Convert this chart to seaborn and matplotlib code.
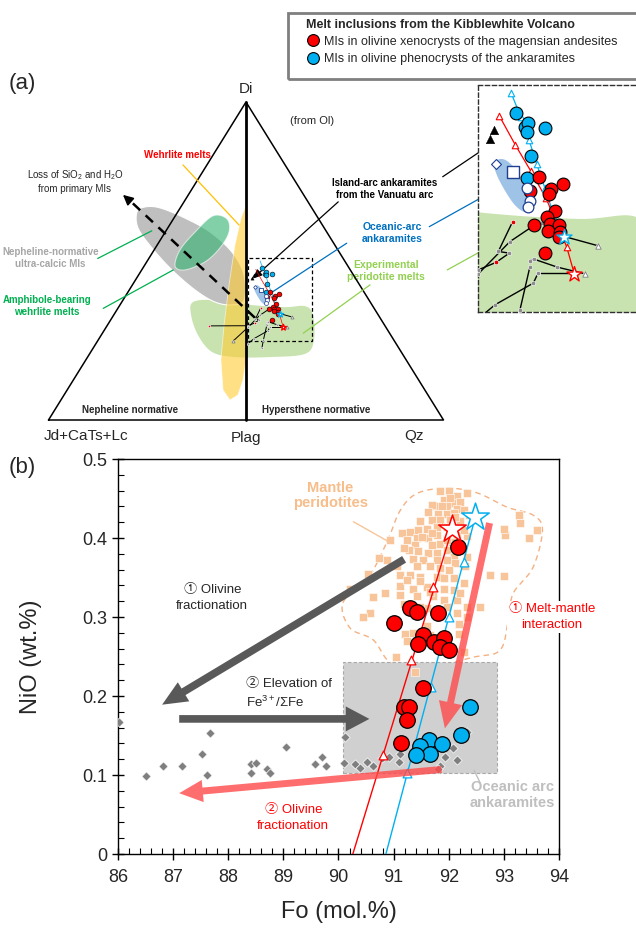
import numpy as np
import matplotlib
matplotlib.use("Agg")
import matplotlib.pyplot as plt
import seaborn as sns
from matplotlib.patches import Polygon, Rectangle, FancyArrowPatch
from matplotlib.lines import Line2D

# ---------------------------------------------------------------------------
# (b) Fo vs NiO data
# ---------------------------------------------------------------------------
xeno_fo = [92.16, 91.30, 91.43, 91.80, 91.01, 91.54, 91.45, 91.74, 91.92, 91.84,
           92.00, 91.53, 91.19, 91.28, 91.24, 91.13]
xeno_nio = [0.388, 0.312, 0.306, 0.305, 0.292, 0.277, 0.266, 0.268, 0.273, 0.262,
            0.258, 0.210, 0.186, 0.186, 0.170, 0.141]

pheno_fo = [92.38, 92.23, 91.65, 91.88, 91.48, 91.66, 91.41]
pheno_nio = [0.186, 0.151, 0.144, 0.139, 0.137, 0.127, 0.125]

ankaramite_fo = [86.02, 86.50, 86.82, 87.16, 87.52, 87.67, 87.61, 88.41, 88.50, 88.41,
                 88.70, 88.75, 89.04, 89.58, 89.70, 89.77, 90.12, 90.10, 90.30, 90.39,
                 90.51, 90.63, 90.79, 90.91, 91.09, 91.12, 91.93, 92.07, 92.15, 92.33,
                 91.84, 91.80]
ankaramite_nio = [0.167, 0.099, 0.112, 0.111, 0.127, 0.153, 0.100, 0.114, 0.115, 0.103,
                  0.108, 0.102, 0.136, 0.114, 0.123, 0.111, 0.148, 0.115, 0.114, 0.109,
                  0.116, 0.111, 0.121, 0.123, 0.117, 0.127, 0.123, 0.134, 0.119, 0.155,
                  0.111, 0.108]

peridotite_fo = [92.00, 92.15, 92.33, 91.91, 92.06, 92.21, 91.77, 91.97, 92.15, 92.27,
                 91.81, 91.97, 92.09, 92.36, 91.69, 91.84, 92.03, 92.21, 91.48, 91.45,
                 91.60, 91.78, 91.30, 91.15, 91.42, 91.63, 91.78, 92.15, 92.33, 91.24,
                 91.39, 91.69, 92.27, 91.84, 91.97, 92.09, 92.33, 91.78, 91.63, 91.45,
                 91.27, 91.18, 91.36, 91.54, 91.78, 91.97, 92.12, 92.30, 91.42, 91.66,
                 91.84, 92.00, 91.12, 91.30, 91.48, 91.78, 92.09, 92.27, 91.12, 91.36,
                 91.60, 91.91, 92.09, 91.42, 91.12, 91.72, 91.91, 92.15, 92.33, 92.57,
                 91.60, 90.57, 90.73, 90.54, 92.74, 93.01, 93.02, 93.01, 93.30, 93.27,
                 93.60, 93.45, 90.94, 91.21, 91.36, 91.60, 91.66, 92.18, 92.18, 91.25,
                 91.05, 91.39, 92.27,
                 91.84, 91.69, 91.63, 92.03, 91.87, 92.12, 91.97, 91.69, 91.51, 92.06,
                 92.21, 91.97, 91.84, 91.48, 91.91, 91.66, 91.24, 92.21, 91.97, 91.18,
                 91.48, 92.15, 92.33, 90.88, 91.06, 90.20, 90.45, 90.62, 90.85]
peridotite_nio = [0.460, 0.453, 0.457, 0.448, 0.444, 0.446, 0.440, 0.440, 0.437, 0.435,
                  0.431, 0.431, 0.432, 0.429, 0.423, 0.423, 0.423, 0.421, 0.421, 0.410,
                  0.412, 0.414, 0.408, 0.406, 0.400, 0.400, 0.404, 0.404, 0.402, 0.397,
                  0.391, 0.391, 0.410, 0.393, 0.385, 0.376, 0.376, 0.381, 0.381, 0.383,
                  0.385, 0.387, 0.374, 0.372, 0.372, 0.372, 0.368, 0.364, 0.364, 0.364,
                  0.362, 0.359, 0.353, 0.353, 0.351, 0.351, 0.349, 0.343, 0.339, 0.336,
                  0.338, 0.336, 0.334, 0.326, 0.328, 0.326, 0.321, 0.321, 0.313, 0.313,
                  0.311, 0.305, 0.375, 0.355, 0.353, 0.352, 0.404, 0.412, 0.419, 0.429,
                  0.410, 0.400, 0.397, 0.279, 0.280, 0.288, 0.277, 0.291, 0.279, 0.269,
                  0.250, 0.231, 0.256,
                  0.459, 0.442, 0.433, 0.451, 0.440, 0.427, 0.414, 0.406, 0.401, 0.395,
                  0.391, 0.398, 0.351, 0.345, 0.349, 0.332, 0.347, 0.330, 0.313, 0.317,
                  0.313, 0.305, 0.300, 0.372, 0.364, 0.335, 0.300, 0.325, 0.330]

# field outline of mantle peridotites
peridotite_field_fo = [90.08, 90.52, 90.88, 91.12, 91.44, 91.99, 92.52, 93.06, 93.53, 93.70,
                       93.53, 93.17, 93.08, 92.93, 92.44, 91.43, 90.94, 90.63, 90.21]
peridotite_field_nio = [0.318, 0.347, 0.395, 0.435, 0.457, 0.463, 0.457, 0.439, 0.429, 0.410,
                        0.363, 0.330, 0.296, 0.258, 0.249, 0.233, 0.242, 0.271, 0.286]

# oceanic-arc ankaramite field
ankaramite_box_fo = [90.09, 92.88]
ankaramite_box_nio = [0.102, 0.243]

# olivine-addition trends from the primary melts (stars)
red_primary = (92.06, 0.411)
blue_primary = (92.48, 0.426)
red_trend_fo = [92.06, 90.26]
red_trend_nio = [0.411, 0.0]
red_step_fo = [91.72, 91.31, 90.80]
red_step_nio = [0.338, 0.245, 0.125]
blue_trend_fo = [92.48, 90.86]
blue_trend_nio = [0.426, 0.0]
blue_step_fo = [92.27, 92.00, 91.67, 91.25]
blue_step_nio = [0.369, 0.300, 0.212, 0.103]

# process arrows (tail, head)
arrow_ol_frac = [(91.19, 0.373), (86.80, 0.189)]
arrow_fe3 = [(87.11, 0.171), (90.56, 0.171)]
arrow_melt_mantle = [(92.74, 0.419), (91.93, 0.159)]
arrow_ol_frac2 = [(91.87, 0.107), (87.11, 0.077)]

# ---------------------------------------------------------------------------
# (a) Projection from Ol: x runs Jd+CaTs+Lc (-1) -> Plag (0) -> Qz (+1),
#     y is the Di apex height (0..1)
# ---------------------------------------------------------------------------
tri_u = [-1.0, 0.0, 1.0, -1.0]
tri_v = [0.0, 1.0, 0.0, 0.0]

ultracalcic_u = [-0.552, -0.511, -0.435, -0.309, -0.182, -0.071, -0.010, -0.010, -0.071,
                 -0.157, -0.258, -0.375, -0.476, -0.547]
ultracalcic_v = [0.654, 0.670, 0.667, 0.635, 0.591, 0.528, 0.456, 0.377, 0.362,
                 0.371, 0.409, 0.472, 0.541, 0.604]
amph_u = [-0.167, -0.096, -0.086, -0.132, -0.208, -0.309, -0.359, -0.334, -0.258]
amph_v = [0.642, 0.632, 0.591, 0.541, 0.497, 0.472, 0.484, 0.535, 0.591]
wehrlite_u = [0.0, -0.025, -0.056, -0.086, -0.111, -0.127, -0.116, -0.081, -0.041, -0.015, 0.0]
wehrlite_v = [0.676, 0.635, 0.550, 0.425, 0.299, 0.189, 0.094, 0.063, 0.079, 0.126, 0.189]
exp_u = [-0.268, -0.157, 0.020, 0.197, 0.299, 0.339, 0.344, 0.299, 0.122, -0.056,
         -0.172, -0.243, -0.278]
exp_v = [0.371, 0.377, 0.362, 0.355, 0.358, 0.330, 0.252, 0.208, 0.198, 0.198,
         0.214, 0.267, 0.330]
oceanic_u = [0.0415, 0.0569, 0.0754, 0.0970, 0.1093, 0.1062, 0.0939, 0.0754, 0.0538, 0.0415]
oceanic_v = [0.4210, 0.4237, 0.4152, 0.3960, 0.3789, 0.3654, 0.3635, 0.3731, 0.3942, 0.4114]

xeno_u = [0.1235, 0.1063, 0.1451, 0.1409, 0.1668, 0.1525, 0.1372, 0.1433, 0.1605, 0.1402,
          0.1618, 0.1142, 0.1596, 0.1340]
xeno_v = [0.4029, 0.3871, 0.3894, 0.3840, 0.3952, 0.3644, 0.3569, 0.3492, 0.3480, 0.3414,
          0.3403, 0.3477, 0.3339, 0.3154]
pheno_u = [0.0798, 0.0970, 0.1031, 0.1013, 0.1335, 0.1087, 0.1001]
pheno_v = [0.4771, 0.4604, 0.4650, 0.4553, 0.4596, 0.4274, 0.4017]
oceanic_mi_u = [0.1001, 0.1063, 0.1031]
oceanic_mi_v = [0.3902, 0.3760, 0.3687]
oceanic_bulk_u, oceanic_bulk_v = [0.0748], [0.4093]
oceanic_avg_u, oceanic_avg_v = [0.0433], [0.4181]
vanuatu_u = [0.0396, 0.0322]
vanuatu_v = [0.4573, 0.4466]

red_path_u = [0.0495, 0.0791, 0.1075, 0.1359, 0.1740, 0.1883]
red_path_v = [0.4735, 0.4401, 0.4103, 0.3789, 0.3233, 0.2919]
blue_path_u = [0.0710, 0.0890, 0.1044, 0.1186, 0.1340, 0.1482, 0.1698]
blue_path_v = [0.5003, 0.4727, 0.4459, 0.4183, 0.3903, 0.3635, 0.3348]

# experimental melting paths
exp_paths = [
    [(0.0742, 0.352), (0.0476, 0.3176), (0.068, 0.3157), (0.0433, 0.305), (0.0106, 0.2965), (-0.187, 0.296)],
    [(0.1278, 0.350), (0.1143, 0.3478), (0.0692, 0.329), (0.0106, 0.2919), (-0.064, 0.249)],
    [(0.1698, 0.3348), (0.2327, 0.3241)],
    [(0.1062, 0.3072), (0.1136, 0.3088), (0.1568, 0.2996), (0.2081, 0.2919)],
    [(0.1217, 0.2934), (0.1865, 0.2934)],
    [(0.1217, 0.2934), (0.1124, 0.2812), (0.0415, 0.2563), (0.010, 0.240)],
    [(0.1062, 0.3003), (0.0877, 0.2505), (0.080, 0.225)],
]
exp_start_u = [0.0742, 0.0433, -0.187]
exp_start_v = [0.352, 0.305, 0.296]
exp_end_u = [0.2327, -0.064, 0.2081]
exp_end_v = [0.3241, 0.249, 0.2919]

# ---------------------------------------------------------------------------
sns.set_theme(style="ticks")
plt.rcParams["font.family"] = ["Liberation Sans", "Noto Sans CJK JP", "DejaVu Sans"]
plt.rcParams["mathtext.fontset"] = "custom"
plt.rcParams["mathtext.rm"] = "Liberation Sans"
plt.rcParams["mathtext.it"] = "Liberation Sans:italic"
plt.rcParams["mathtext.bf"] = "Liberation Sans:bold"

W, H = 636, 930
fig = plt.figure(figsize=(W / 100, H / 100), dpi=100)
fig.patch.set_facecolor("white")


def fig_box(x0, y0, x1, y1):
    return [x0 / W, 1 - y1 / H, (x1 - x0) / W, (y1 - y0) / H]


def smooth_closed(u, v, n=16):
    P = np.column_stack([u, v]).astype(float)
    m = len(P)
    t = np.linspace(0, 1, n, endpoint=False)[:, None]
    segs = []
    for i in range(m):
        p0, p1, p2, p3 = P[i - 1], P[i], P[(i + 1) % m], P[(i + 2) % m]
        segs.append(0.5 * (2 * p1 + (p2 - p0) * t + (2 * p0 - 5 * p1 + 4 * p2 - p3) * t ** 2
                           + (3 * p1 - p0 - 3 * p2 + p3) * t ** 3))
    out = np.vstack(segs)
    return np.vstack([out, out[:1]])


# ============================ panel (a) =====================================
ax_a = fig.add_axes(fig_box(0, 0, W, 445))
ax_a.set_xlim(-1.2456, 1.9747)
ax_a.set_ylim(-0.0786, 1.3208)
ax_a.axis("off")


def draw_fields(ax):
    ax.add_patch(Polygon(smooth_closed(exp_u, exp_v), closed=True, fc="#c8e3b0", ec="none", zorder=1))
    ax.add_patch(Polygon(smooth_closed(oceanic_u, oceanic_v), closed=True, fc="#9fc3e7", ec="none", zorder=2))


draw_fields(ax_a)
ax_a.add_patch(Polygon(smooth_closed(ultracalcic_u, ultracalcic_v), closed=True,
                       fc="#bfbfbf", ec="white", lw=0.8, zorder=2))
ax_a.add_patch(Polygon(smooth_closed(amph_u, amph_v), closed=True,
                       fc="#2fb26f", alpha=0.6, ec="white", lw=0.8, zorder=3))
ax_a.add_patch(Polygon(np.column_stack([wehrlite_u, wehrlite_v]), closed=True,
                       fc="#ffcc33", alpha=0.6, ec="white", lw=0.6, zorder=3))

# triangle frame
ax_a.plot(tri_u, tri_v, color="black", lw=1.1, zorder=5)
ax_a.plot([0, 0], [0, 1], color="black", lw=2.0, zorder=5)

# zoom box
ax_a.add_patch(Rectangle((0.01, 0.248), 0.324, 0.261, fill=False, ec="black", lw=0.9,
                         ls=(0, (3, 2)), zorder=6))

# SiO2 / H2O loss trend
ax_a.plot([0.046, -0.600], [0.321, 0.697], color="black", lw=1.8, ls=(0, (4, 3)), zorder=6)
ax_a.annotate("", xy=(-0.623, 0.708), xytext=(-0.590, 0.690),
              arrowprops=dict(arrowstyle="-|>,head_width=0.25,head_length=0.5", color="black",
                              lw=1.2, shrinkA=0, shrinkB=0), zorder=6)


def draw_points(ax, big):
    s_c = 85 if big else 12
    s_dot = 10 if big else 3
    lw_path = 1.0 if big else 0.7
    for path in exp_paths:
        pu = [p[0] for p in path]
        pv = [p[1] for p in path]
        ax.plot(pu, pv, color="black", lw=lw_path, zorder=6)
        sns.scatterplot(x=pu, y=pv, ax=ax, marker="o", s=s_dot, color="#8c8c8c",
                        edgecolor="white", linewidth=0.4, zorder=7)
    sns.scatterplot(x=exp_start_u, y=exp_start_v, ax=ax, marker="o", s=s_dot, color="#e00000",
                    edgecolor="white", linewidth=0.4, zorder=7)
    sns.scatterplot(x=exp_end_u, y=exp_end_v, ax=ax, marker="^", s=s_dot * 1.5, color="white",
                    edgecolor="#7f7f7f", linewidth=0.6, zorder=7)
    ax.plot(red_path_u, red_path_v, color="red", lw=0.9 if big else 0.5, zorder=8)
    ax.plot(blue_path_u, blue_path_v, color="#00b0f0", lw=0.9 if big else 0.5, zorder=8)
    if big:
        sns.scatterplot(x=red_path_u[:-1], y=red_path_v[:-1], ax=ax, marker="^", s=22,
                        color="white", edgecolor="red", linewidth=0.8, zorder=8)
        sns.scatterplot(x=blue_path_u[:-1], y=blue_path_v[:-1], ax=ax, marker="^", s=22,
                        color="white", edgecolor="#00b0f0", linewidth=0.8, zorder=8)
    sns.scatterplot(x=pheno_u, y=pheno_v, ax=ax, marker="o", s=s_c, color="#00b0f0",
                    edgecolor="black", linewidth=0.8 if big else 0.4, zorder=9)
    sns.scatterplot(x=xeno_u, y=xeno_v, ax=ax, marker="o", s=s_c, color="#ff0000",
                    edgecolor="black", linewidth=0.8 if big else 0.4, zorder=9)
    sns.scatterplot(x=oceanic_mi_u, y=oceanic_mi_v, ax=ax, marker="o", s=s_c * 0.7, color="white",
                    edgecolor="#1f3f8f", linewidth=0.9 if big else 0.5, zorder=9)
    sns.scatterplot(x=oceanic_bulk_u, y=oceanic_bulk_v, ax=ax, marker="s", s=s_c * 0.8, color="white",
                    edgecolor="#1f3f8f", linewidth=1.0 if big else 0.6, zorder=9)
    sns.scatterplot(x=oceanic_avg_u, y=oceanic_avg_v, ax=ax, marker="D", s=s_c * 0.3, color="white",
                    edgecolor="#1f3f8f", linewidth=0.8 if big else 0.5, zorder=9)
    sns.scatterplot(x=vanuatu_u, y=vanuatu_v, ax=ax, marker="^", s=s_c * 0.45, color="black",
                    edgecolor="black", linewidth=0.3, zorder=9)
    sns.scatterplot(x=[red_path_u[-1]], y=[red_path_v[-1]], ax=ax, marker="*",
                    s=130 if big else 20, color="white", edgecolor="red", linewidth=1.0, zorder=10)
    sns.scatterplot(x=[blue_path_u[-1]], y=[blue_path_v[-1]], ax=ax, marker="*",
                    s=130 if big else 20, color="white", edgecolor="#00b0f0", linewidth=1.0, zorder=10)


draw_points(ax_a, big=False)

# leader lines
leaders = [
    ([-0.319, -0.035], [0.802, 0.613], "#ffc000"),
    ([-0.751, -0.477], [0.508, 0.595], "#00b050"),
    ([-0.723, -0.368], [0.351, 0.472], "#00b050"),
    ([0.510, 0.122], [0.556, 0.398], "#0070c0"),
    ([0.928, 1.185], [0.608, 0.697], "#0070c0"),
    ([0.628, 0.290], [0.425, 0.273], "#92d050"),
    ([1.019, 1.185], [0.472, 0.529], "#92d050"),
    ([0.996, 1.185], [0.765, 0.844], "black"),
]
for lu, lv, c in leaders:
    ax_a.plot(lu, lv, color=c, lw=0.9, zorder=6)
ax_a.annotate("", xy=(0.035, 0.445), xytext=(0.467, 0.686),
              arrowprops=dict(arrowstyle="-|>,head_width=0.2,head_length=0.45", color="black",
                              lw=0.9, shrinkA=0, shrinkB=0), zorder=7)

bold7 = dict(fontsize=7, fontweight="bold", ha="center", va="center")
ax_a.text(0, 1.041, "Di", fontsize=11, ha="center", va="center")
ax_a.text(0, -0.057, "Plag", fontsize=11, ha="center", va="center")
ax_a.text(-0.810, -0.050, "Jd+CaTs+Lc", fontsize=11, ha="center", va="center")
ax_a.text(0.851, -0.050, "Qz", fontsize=11, ha="center", va="center")
ax_a.text(0.334, 0.940, "(from Ol)", fontsize=8, ha="center", va="center")
ax_a.text(-0.349, 0.833, "Wehrlite melts", color="#ff0000", **bold7)
ax_a.text(-0.866, 0.752, "Loss of SiO$_2$ and H$_2$O\nfrom primary MIs", fontsize=7,
          ha="center", va="center", linespacing=1.2)
ax_a.text(-0.990, 0.509, "Nepheline-normative\nultra-calcic MIs", color="#a6a6a6", **bold7)
ax_a.text(-1.008, 0.358, "Amphibole-bearing\nwehrlite melts", color="#00b050", **bold7)
ax_a.text(0.704, 0.726, "Island-arc ankaramites\nfrom the Vanuatu arc", color="black", **bold7)
ax_a.text(0.739, 0.588, "Oceanic-arc\nankaramites", color="#0070c0", fontsize=7.5,
          fontweight="bold", ha="center", va="center")
ax_a.text(0.709, 0.469, "Experimental\nperidotite melts", color="#92d050", fontsize=7.5,
          fontweight="bold", ha="center", va="center")
ax_a.text(-0.587, 0.031, "Nepheline normative", **bold7)
ax_a.text(0.354, 0.031, "Hypersthene normative", **bold7)

# enlarged view of the boxed region
ax_in = fig.add_axes(fig_box(478, 85, 653, 312))
ax_in.set_xlim(0.01, 0.334)
ax_in.set_ylim(0.248, 0.509)
ax_in.set_xticks([])
ax_in.set_yticks([])
ax_in.set_facecolor("white")
for sp in ax_in.spines.values():
    sp.set_linestyle((0, (3, 2)))
    sp.set_linewidth(1.0)
    sp.set_color("#303030")
draw_fields(ax_in)
draw_points(ax_in, big=True)

# legend box
fig.patches.append(Rectangle((288 / W, 1 - 79 / H), 0.6, 66 / H, transform=fig.transFigure,
                             fill=False, ec="#7f7f7f", lw=2, zorder=20))
handles = [
    Line2D([], [], marker="o", ls="none", mfc="#ff0000", mec="black", mew=0.8, ms=8.5),
    Line2D([], [], marker="o", ls="none", mfc="#00b0f0", mec="black", mew=0.8, ms=8.5),
]
leg = fig.legend(handles, ["MIs in olivine xenocrysts of the magensian andesites",
                           "MIs in olivine phenocrysts of the ankaramites"],
                 loc="upper left", bbox_to_anchor=(303 / W, 1 - 16 / H),
                 title="Melt inclusions from the Kibblewhite Volcano",
                 title_fontproperties={"weight": "bold", "size": 9}, fontsize=9,
                 alignment="left", frameon=False, borderpad=0.2,
                 labelspacing=0.42, handletextpad=0.25, handlelength=1.2, borderaxespad=0)

fig.text(22 / W, 1 - 84 / H, "(a)", fontsize=16, ha="center", va="center")
fig.text(22 / W, 1 - 467 / H, "(b)", fontsize=16, ha="center", va="center")

# ============================ panel (b) =====================================
ax = fig.add_axes(fig_box(118, 459, 559, 854))
ax.set_xlim(86, 94)
ax.set_ylim(0, 0.5)

outline = smooth_closed(peridotite_field_fo, peridotite_field_nio)
ax.plot(outline[:, 0], outline[:, 1], color="#f4b183", lw=1.0, ls=(0, (4, 3)), zorder=1)
ax.add_patch(Rectangle((ankaramite_box_fo[0], ankaramite_box_nio[0]),
                       ankaramite_box_fo[1] - ankaramite_box_fo[0],
                       ankaramite_box_nio[1] - ankaramite_box_nio[0],
                       fc="#d0d0d0", ec="#a8a8a8", lw=0.8, ls=(0, (3, 2)), zorder=2))

sns.scatterplot(x=peridotite_fo, y=peridotite_nio, ax=ax, marker="s", s=32, color="#f8c59a",
                edgecolor="white", linewidth=0.4, zorder=3)
sns.scatterplot(x=ankaramite_fo, y=ankaramite_nio, ax=ax, marker="D", s=22, color="#7f7f7f",
                edgecolor="white", linewidth=0.5, zorder=4)


def thick_arrow(pts, color, alpha=1.0, tw=0.55, hw=1.7, hl=1.7, z=5):
    ax.add_patch(FancyArrowPatch(pts[0], pts[1],
                                 arrowstyle=f"simple,tail_width={tw},head_width={hw},head_length={hl}",
                                 mutation_scale=10, color=color, alpha=alpha, lw=0,
                                 shrinkA=0, shrinkB=0, zorder=z))


thick_arrow(arrow_ol_frac, "#595959", hw=1.6, hl=1.8)
thick_arrow(arrow_fe3, "#595959", hw=1.8, hl=1.7)
thick_arrow(arrow_melt_mantle, "#ff4a4a", alpha=0.8, tw=0.5, hw=1.7, hl=1.9)

sns.lineplot(x=red_trend_fo, y=red_trend_nio, ax=ax, color="red", lw=1.0, sort=False, zorder=6)
sns.lineplot(x=blue_trend_fo, y=blue_trend_nio, ax=ax, color="#00b0f0", lw=1.0, sort=False, zorder=6)
sns.scatterplot(x=red_step_fo, y=red_step_nio, ax=ax, marker="^", s=40, color="white",
                edgecolor="red", linewidth=0.9, zorder=6.5)
sns.scatterplot(x=blue_step_fo, y=blue_step_nio, ax=ax, marker="^", s=40, color="white",
                edgecolor="#00b0f0", linewidth=0.9, zorder=6.5)

thick_arrow(arrow_ol_frac2, "#ff4a4a", alpha=0.8, tw=0.5, hw=1.6, hl=1.7, z=6.8)

sns.scatterplot(x=xeno_fo, y=xeno_nio, ax=ax, marker="o", s=125, color="#ff0000",
                edgecolor="black", linewidth=0.9, zorder=7)
sns.scatterplot(x=pheno_fo, y=pheno_nio, ax=ax, marker="o", s=125, color="#00b0f0",
                edgecolor="black", linewidth=0.9, zorder=7)
sns.scatterplot(x=[red_primary[0]], y=[red_primary[1]], ax=ax, marker="*", s=430, color="white",
                edgecolor="red", linewidth=1.1, zorder=8)
sns.scatterplot(x=[blue_primary[0]], y=[blue_primary[1]], ax=ax, marker="*", s=430, color="white",
                edgecolor="#00b0f0", linewidth=1.1, zorder=8)

# annotations
ax.plot([90.27, 90.91], [0.4206, 0.3953], color="#f8c59a", lw=1.0, zorder=3)
ax.plot([92.46, 92.57], [0.106, 0.090], color="#bfbfbf", lw=1.0, zorder=3)
ax.text(89.85, 0.454, "Mantle\nperidotites", color="#f7bd8a", fontsize=10.5, fontweight="bold",
        ha="center", va="center", linespacing=1.15)
ax.text(87.71, 0.324, "① Olivine\nfractionation", color="#262626", fontsize=9.5,
        ha="center", va="center", linespacing=1.35)
ax.text(88.32, 0.2025, "② Elevation of\nFe$^{3+}$/ΣFe", color="#262626", fontsize=9.5,
        ha="left", va="center", linespacing=1.35)
ax.text(93.87, 0.300, "① Melt-mantle\ninteraction", color="#ff0000", fontsize=9.5,
        ha="center", va="center", linespacing=1.35, zorder=10, clip_on=False,
        bbox=dict(fc="white", ec="none", pad=1.5))
ax.text(89.18, 0.0456, "② Olivine\nfractionation", color="#ff0000", fontsize=9.5,
        ha="center", va="center", linespacing=1.35)
ax.text(93.15, 0.075, "Oceanic arc\nankaramites", color="#bfbfbf", fontsize=10.5,
        fontweight="bold", ha="center", va="center", linespacing=1.15)

# axes styling
ax.set_xticks(np.arange(86, 94.1, 1))
ax.set_xticks(np.arange(86, 94.01, 0.2), minor=True)
ax.set_yticks([0, 0.1, 0.2, 0.3, 0.4, 0.5])
ax.set_yticklabels(["0", "0.1", "0.2", "0.3", "0.4", "0.5"])
ax.set_yticks(np.arange(0, 0.501, 0.02), minor=True)
ax.tick_params(which="major", direction="inout", length=9, width=1.0, labelsize=13, color="black")
ax.tick_params(which="minor", direction="in", length=4, width=0.8, color="black")
ax.tick_params(axis="x", which="major", pad=6)
for sp in ax.spines.values():
    sp.set_color("black")
    sp.set_linewidth(1.0)
ax.set_xlabel("Fo (mol.%)", fontsize=17)
ax.set_ylabel("NiO (wt.%)", fontsize=17)
ax.xaxis.set_label_coords(0.5, -0.118)
ax.yaxis.set_label_coords(-0.172, 0.5)

fig.savefig("out.png", dpi=100, facecolor="white")
